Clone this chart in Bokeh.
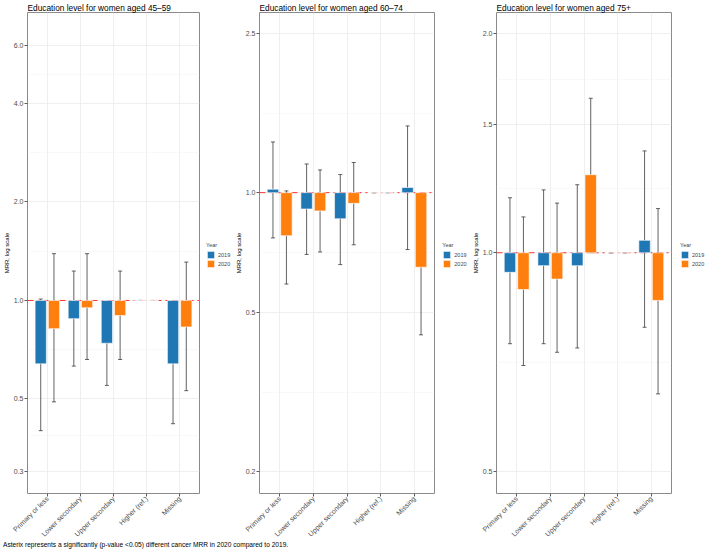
import math
from bokeh.plotting import figure
from bokeh.models import (Range1d, FactorRange, ColumnDataSource, FixedTicker, PrintfTickFormatter,
                          Span, Whisker, TeeHead, Legend, LegendItem, Div)
from bokeh.transform import dodge
from bokeh.layouts import row, column
from bokeh.embed import file_html
from bokeh.resources import INLINE

FONT = "Liberation Sans"

categories = ["Primary or less", "Lower secondary", "Upper secondary", "Higher (ref.)", "Missing"]
years = ["2019", "2020"]
colors = ["#1F77B4", "#FF7F0E"]

titles = ["Education level for women aged 45\u201359",
          "Education level for women aged 60\u201374",
          "Education level for women aged 75+"]

# women aged 45-59
mrr_45_2019 = [0.64, 0.88, 0.74, 1.0, 0.64]
lo_45_2019 = [0.40, 0.63, 0.55, 1.0, 0.42]
hi_45_2019 = [1.01, 1.23, 0.98, 1.0, 0.98]
mrr_45_2020 = [0.82, 0.95, 0.90, 1.0, 0.83]
lo_45_2020 = [0.49, 0.66, 0.66, 1.0, 0.53]
hi_45_2020 = [1.39, 1.39, 1.23, 1.0, 1.31]

# women aged 60-74
mrr_60_2019 = [1.02, 0.91, 0.86, 1.0, 1.03]
lo_60_2019 = [0.77, 0.70, 0.66, 1.0, 0.72]
hi_60_2019 = [1.34, 1.18, 1.11, 1.0, 1.47]
mrr_60_2020 = [0.78, 0.90, 0.94, 1.0, 0.65]
lo_60_2020 = [0.59, 0.71, 0.74, 1.0, 0.44]
hi_60_2020 = [1.01, 1.14, 1.19, 1.0, 0.96]

# women aged 75+
mrr_75_2019 = [0.94, 0.96, 0.96, 1.0, 1.04]
lo_75_2019 = [0.75, 0.75, 0.74, 1.0, 0.79]
hi_75_2019 = [1.19, 1.22, 1.24, 1.0, 1.38]
mrr_75_2020 = [0.89, 0.92, 1.28, 1.0, 0.86]
lo_75_2020 = [0.70, 0.73, 1.00, 1.0, 0.64]
hi_75_2020 = [1.12, 1.17, 1.63, 1.0, 1.15]

y_limits = [(0.257, 7.59), (0.176, 2.83), (0.467, 2.138)]
y_major = [[0.3, 0.5, 1.0, 2.0, 4.0, 6.0], [0.2, 0.5, 1.0, 2.5], [0.5, 1.0, 1.5, 2.0]]

footer = "Asterix represents a significantly (p-value <0.05) different cancer MRR in 2020 compared to 2019."

panels = [
    (mrr_45_2019, lo_45_2019, hi_45_2019, mrr_45_2020, lo_45_2020, hi_45_2020),
    (mrr_60_2019, lo_60_2019, hi_60_2019, mrr_60_2020, lo_60_2020, hi_60_2020),
    (mrr_75_2019, lo_75_2019, hi_75_2019, mrr_75_2020, lo_75_2020, hi_75_2020),
]

BORDER_L = 27
BORDER_R = 2
BORDER_T = 12
BORDER_B = 56
FRAME_H = 481
FIG_H = BORDER_T + FRAME_H + BORDER_B
frame_w = [172, 175, 175]
legend_w = [31, 33, 35]
legend_x = [5.0, 6.3, 7.0]
LEGEND_Y = 225


def minor_of(majors):
    return [math.sqrt(a * b) for a, b in zip(majors[:-1], majors[1:])]


children = []
for i, (v19, l19, h19, v20, l20, h20) in enumerate(panels):
    src = ColumnDataSource(dict(cat=categories, v19=v19, l19=l19, h19=h19,
                                v20=v20, l20=l20, h20=h20))
    p = figure(width=BORDER_L + frame_w[i] + BORDER_R, height=FIG_H,
               output_backend="svg", toolbar_location=None,
               x_range=FactorRange(factors=categories, range_padding=0.04),
               y_range=Range1d(*y_limits[i]), y_axis_type="log",
               min_border_left=BORDER_L, min_border_right=BORDER_R,
               min_border_top=BORDER_T, min_border_bottom=BORDER_B)
    p.background_fill_color = "white"
    p.border_fill_color = "white"
    p.outline_line_color = "#8a8a8a"
    p.outline_line_width = 1

    p.title.text = titles[i]
    p.title.text_font = FONT
    p.title.text_font_size = "8.3px"
    p.title.text_font_style = "normal"
    p.title.text_color = "black"
    p.title.align = "left"
    p.title.standoff = 0

    # grids
    p.ygrid.ticker = FixedTicker(ticks=y_major[i], minor_ticks=minor_of(y_major[i]))
    p.ygrid.grid_line_color = "#ebebeb"
    p.ygrid.grid_line_width = 0.8
    p.ygrid.minor_grid_line_color = "#f3f3f3"
    p.ygrid.minor_grid_line_width = 0.5
    p.xgrid.grid_line_color = "#ebebeb"
    p.xgrid.grid_line_width = 0.8

    # axes
    p.yaxis.ticker = FixedTicker(ticks=y_major[i])
    p.yaxis.formatter = PrintfTickFormatter(format="%.1f")
    p.yaxis.axis_label = "MRR, log scale"
    p.yaxis.axis_label_text_font = FONT
    p.yaxis.axis_label_text_font_size = "6px"
    p.yaxis.axis_label_text_font_style = "normal"
    p.yaxis.axis_label_text_color = "black"
    p.yaxis.axis_label_standoff = 1
    for ax in (p.xaxis, p.yaxis):
        ax.axis_line_color = None
        ax.major_tick_line_color = "#333333"
        ax.major_tick_line_width = 0.8
        ax.major_tick_out = 3
        ax.major_tick_in = 0
        ax.minor_tick_line_color = None
        ax.major_label_text_font = FONT
        ax.major_label_text_color = "#4d4d4d"
        ax.major_label_standoff = 1
    p.yaxis.major_label_text_font_size = "7px"
    p.xaxis.major_label_text_font_size = "7px"
    p.xaxis.major_label_orientation = math.pi / 4

    ref = Span(location=1.0, dimension="width", line_color="red", line_dash="dashdot",
               line_width=0.8, level="underlay")
    p.add_layout(ref)

    p.vbar(x=dodge("cat", -0.2, range=p.x_range), top="v19", bottom=1.0, width=0.34,
           source=src, fill_color=colors[0], line_color="white", line_width=0.6)
    p.vbar(x=dodge("cat", 0.2, range=p.x_range), top="v20", bottom=1.0, width=0.34,
           source=src, fill_color=colors[1], line_color="white", line_width=0.6)

    for off, lo, hi in ((-0.2, "l19", "h19"), (0.2, "l20", "h20")):
        w = Whisker(base=dodge("cat", off, range=p.x_range), lower=lo, upper=hi, source=src,
                    line_color="#3a3a3a", line_width=0.8,
                    upper_head=TeeHead(size=4, line_color="#3a3a3a", line_width=0.8),
                    lower_head=TeeHead(size=4, line_color="#3a3a3a", line_width=0.8))
        p.add_layout(w)
    children.append(p)

    # legend panel: a bare figure holding the "Year" key for this facet.
    # The key proxies are zero-size bars so that only their legend swatches show.
    lg = figure(width=legend_w[i], height=FIG_H, output_backend="svg", toolbar_location=None,
                x_range=Range1d(0, 1), y_range=Range1d(0, 1),
                x_axis_location=None, y_axis_location=None,
                min_border=0, min_border_left=0, min_border_right=0,
                min_border_top=0, min_border_bottom=0)
    lg.outline_line_color = None
    lg.grid.visible = False
    lg.background_fill_color = "white"
    lg.border_fill_color = "white"
    key_src = ColumnDataSource(dict(x=[0.0], y=[0.0]))
    k19 = lg.vbar(x="x", top="y", bottom="y", width=0.0, source=key_src,
                  fill_color=colors[0], line_color="white", line_width=0.6)
    k20 = lg.vbar(x="x", top="y", bottom="y", width=0.0, source=key_src,
                  fill_color=colors[1], line_color="white", line_width=0.6)
    legend = Legend(items=[LegendItem(label=years[0], renderers=[k19]),
                           LegendItem(label=years[1], renderers=[k20])],
                    location=(legend_x[i], LEGEND_Y), title="Year")
    legend.margin = 0
    legend.padding = 1
    legend.spacing = 0
    legend.border_line_color = None
    legend.background_fill_alpha = 0
    legend.glyph_width = 9
    legend.glyph_height = 9
    legend.label_height = 9
    legend.label_standoff = 3
    legend.label_text_font = FONT
    legend.label_text_font_size = "5.5px"
    legend.title_text_font = FONT
    legend.title_text_font_size = "5.5px"
    legend.title_text_font_style = "normal"
    legend.title_standoff = 2
    lg.add_layout(legend)
    children.append(lg)

note = Div(text=footer, render_as_text=True, width=600, height=9, margin=(-9, 0, 0, 3),
           styles={"font-family": FONT, "font-size": "6.6px", "color": "black",
                   "line-height": "9px", "white-space": "nowrap"})

layout = column(row(*children), note)

open("out.html", "w").write(file_html(layout, INLINE))
